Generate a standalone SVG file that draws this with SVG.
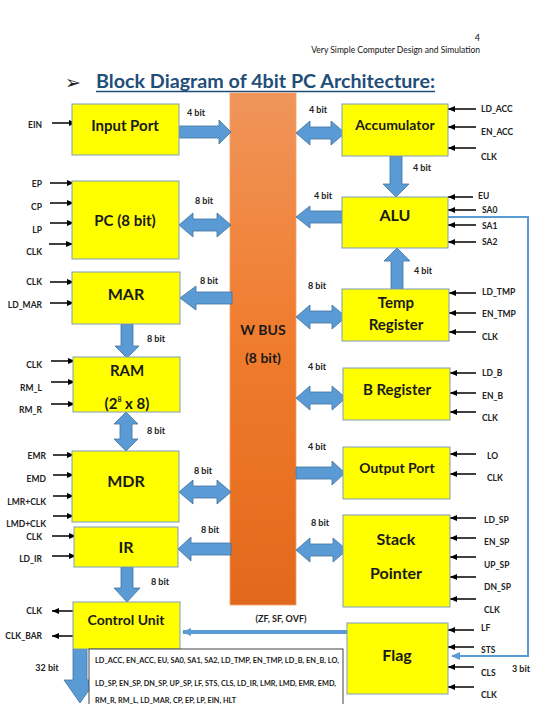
<svg xmlns="http://www.w3.org/2000/svg" width="548" height="704" viewBox="0 0 548 704">
<style>
.box{fill:#ffff00;stroke:#7f9cc0;stroke-width:1}
.bt{font-family:Lato,"Open Sans",sans-serif;font-weight:bold;fill:#1a1a1a;text-anchor:middle}
.sig{font-family:Lato,"Open Sans",sans-serif;font-weight:bold;font-size:8.5px;fill:#222}
.sr{text-anchor:end}
.bit{font-family:Lato,"Open Sans",sans-serif;font-weight:bold;font-size:9px;fill:#222;text-anchor:middle}
.ba{fill:#5b9bd5;stroke:#41719c;stroke-width:0.8}
.sl{stroke:#000;stroke-width:1.5;marker-end:url(#ah)}
.lst{font-family:Lato,"Open Sans",sans-serif;font-size:6.5px;font-weight:bold;fill:#222}
</style>
<defs>
<marker id="ah" markerUnits="userSpaceOnUse" markerWidth="7" markerHeight="6" refX="7" refY="3" orient="auto"><path d="M0,0 L7,3 L0,6 z" fill="#000"/></marker>
<marker id="bh" markerUnits="userSpaceOnUse" markerWidth="9" markerHeight="8" refX="8" refY="4" orient="auto"><path d="M0,0 L9,4 L0,8 z" fill="#5b9bd5"/></marker>
<linearGradient id="bus" x1="0" y1="0" x2="0" y2="1"><stop offset="0" stop-color="#f0955a"/><stop offset="0.5" stop-color="#f07b2c"/><stop offset="1" stop-color="#e2691b"/></linearGradient>
</defs>
<rect width="548" height="704" fill="#ffffff"/>
<text x="480" y="41" font-family="Lato,'Open Sans',sans-serif" font-size="9" text-anchor="end" fill="#111">4</text>
<text x="480" y="53" font-family="Lato,'Open Sans',sans-serif" font-size="8.5" text-anchor="end" fill="#111">Very Simple Computer Design and Simulation</text>
<text x="65" y="89" font-family="'DejaVu Sans',sans-serif" font-size="19" fill="#222">➢</text>
<text x="96" y="88" font-family="Lato,'Open Sans',sans-serif" font-weight="bold" font-size="19" fill="#1f4e79" textLength="339" lengthAdjust="spacingAndGlyphs">Block Diagram of 4bit PC Architecture:</text>
<line x1="96" y1="91.5" x2="435" y2="91.5" stroke="#1f4e79" stroke-width="1.6"/>

<g id="wbus">
<rect x="230" y="93" width="66" height="512" fill="url(#bus)" stroke="#f3a06a" stroke-width="0.8"/>
<text class="bt" x="263" y="335" font-size="14">W BUS</text>
<text class="bt" x="263" y="363" font-size="14">(8 bit)</text>
</g>

<g id="connectors">
<polygon class="ba" points="179,126 219,126 219,120 231,132 219,144 219,138 179,138"/>
<polygon class="ba" points="179,225 193,213 193,219 217,219 217,213 231,225 217,237 217,231 193,231 193,237"/>
<polygon class="ba" points="180,298 196,286 196,292 232,292 232,304 196,304 196,310"/>
<polygon class="ba" points="121,324 133,324 133,346 139,346 127,358 115,346 121,346"/>
<polygon class="ba" points="126,412 138,424 132,424 132,439 138,439 126,451 114,439 120,439 120,424 114,424"/>
<polygon class="ba" points="179,492 193,480 193,486 217,486 217,480 231,492 217,504 217,498 193,498 193,504"/>
<polygon class="ba" points="178,549 191,537 191,543 231,543 231,555 191,555 191,561"/>
<polygon class="ba" points="121,567 133,567 133,588 140,588 127,602 114,588 121,588"/>
<polygon class="ba" points="73,649 87,649 87,680 96,680 80,703 64,680 73,680"/>
<polygon class="ba" points="296,133 310,121 310,127 331,127 331,121 345,133 331,145 331,139 310,139 310,145"/>
<polygon class="ba" points="390,156 402,156 402,184 409,184 396,197 383,184 390,184"/>
<polygon class="ba" points="296,217 310,206 310,211 342,211 342,223 310,223 310,228"/>
<polygon class="ba" points="397,248 410,261 403,261 403,289 391,289 391,261 384,261"/>
<polygon class="ba" points="296,317 310,305 310,311 332,311 332,305 346,317 332,329 332,323 310,323 310,329"/>
<polygon class="ba" points="296,398 310,386 310,392 332,392 332,386 346,398 332,410 332,404 310,404 310,410"/>
<polygon class="ba" points="296,467 332,467 332,461 345,473 332,485 332,479 296,479"/>
<polygon class="ba" points="296,550 310,538 310,544 333,544 333,538 347,550 333,562 333,556 310,556 310,562"/>
<polyline points="448,217 528,217 528,656 452,656" fill="none" stroke="#5b9bd5" stroke-width="2" marker-end="url(#bh)"/>
<line x1="347" y1="632" x2="183" y2="632" stroke="#5b9bd5" stroke-width="4" marker-end="url(#bh)"/>
<line class="sl" x1="52" y1="123" x2="76" y2="123"/>
<line class="sl" x1="50" y1="183" x2="74" y2="183"/>
<line class="sl" x1="50" y1="203" x2="74" y2="203"/>
<line class="sl" x1="50" y1="223" x2="74" y2="223"/>
<line class="sl" x1="49" y1="244" x2="73" y2="244"/>
<line class="sl" x1="50" y1="282" x2="74" y2="282"/>
<line class="sl" x1="50" y1="303" x2="74" y2="303"/>
<line class="sl" x1="51" y1="361" x2="75" y2="361"/>
<line class="sl" x1="51" y1="382" x2="75" y2="382"/>
<line class="sl" x1="51" y1="404" x2="75" y2="404"/>
<line class="sl" x1="53" y1="455" x2="74" y2="455"/>
<line class="sl" x1="53" y1="475" x2="74" y2="475"/>
<line class="sl" x1="53" y1="496" x2="74" y2="496"/>
<line class="sl" x1="53" y1="516" x2="74" y2="516"/>
<line class="sl" x1="52" y1="536" x2="76" y2="536"/>
<line class="sl" x1="52" y1="556" x2="76" y2="556"/>
<line class="sl" x1="78" y1="611" x2="52" y2="611"/>
<line class="sl" x1="78" y1="636" x2="52" y2="636"/>
<line class="sl" x1="476" y1="109" x2="448" y2="109"/>
<line class="sl" x1="476" y1="127" x2="448" y2="127"/>
<line class="sl" x1="476" y1="148" x2="448" y2="148"/>
<line class="sl" x1="473" y1="197" x2="448" y2="197"/>
<line class="sl" x1="476" y1="210" x2="448" y2="210"/>
<line class="sl" x1="476" y1="225" x2="448" y2="225"/>
<line class="sl" x1="476" y1="242" x2="448" y2="242"/>
<line class="sl" x1="476" y1="293" x2="449" y2="293"/>
<line class="sl" x1="476" y1="313" x2="449" y2="313"/>
<line class="sl" x1="476" y1="332" x2="449" y2="332"/>
<line class="sl" x1="476" y1="373" x2="450" y2="373"/>
<line class="sl" x1="476" y1="393" x2="450" y2="393"/>
<line class="sl" x1="476" y1="412" x2="450" y2="412"/>
<line class="sl" x1="476" y1="454" x2="450" y2="454"/>
<line class="sl" x1="476" y1="474" x2="450" y2="474"/>
<line class="sl" x1="476" y1="518" x2="450" y2="518"/>
<line class="sl" x1="476" y1="538" x2="450" y2="538"/>
<line class="sl" x1="476" y1="557" x2="450" y2="557"/>
<line class="sl" x1="476" y1="577" x2="450" y2="577"/>
<line class="sl" x1="476" y1="599" x2="450" y2="599"/>
<line class="sl" x1="474" y1="630" x2="448" y2="630"/>
<line class="sl" x1="474" y1="647" x2="448" y2="647"/>
<line class="sl" x1="474" y1="667" x2="448" y2="667"/>
<line class="sl" x1="474" y1="687" x2="448" y2="687"/>
<text class="bit" x="196" y="116">4 bit</text>
<text class="bit" x="204" y="204">8 bit</text>
<text class="bit" x="209" y="284">8 bit</text>
<text class="bit" x="156" y="342">8 bit</text>
<text class="bit" x="156" y="434">8 bit</text>
<text class="bit" x="203" y="474">8 bit</text>
<text class="bit" x="210" y="533">8 bit</text>
<text class="bit" x="160" y="585">8 bit</text>
<text class="bit" x="47" y="671" font-size="10">32 bit</text>
<text class="bit" x="318" y="113">4 bit</text>
<text class="bit" x="422" y="171">4 bit</text>
<text class="bit" x="323" y="199">4 bit</text>
<text class="bit" x="423" y="274">4 bit</text>
<text class="bit" x="317" y="289">8 bit</text>
<text class="bit" x="317" y="370">4 bit</text>
<text class="bit" x="317" y="450">4 bit</text>
<text class="bit" x="320" y="526">8 bit</text>
<text class="bit" x="521" y="672">3 bit</text>
<text class="bit" x="281" y="622">(ZF, SF, OVF)</text>
</g>

<g id="input-port">
<rect class="box" x="72" y="104" width="107" height="51"/>
<text class="bt" x="125" y="131" font-size="15">Input Port</text>
<text class="sig sr" x="42" y="128">EIN</text>
</g>
<g id="pc">
<rect class="box" x="72" y="181" width="107" height="78"/>
<text class="bt" x="125" y="226" font-size="15">PC (8 bit)</text>
<text class="sig sr" x="42" y="187">EP</text>
<text class="sig sr" x="42" y="210">CP</text>
<text class="sig sr" x="42" y="233">LP</text>
<text class="sig sr" x="42" y="255">CLK</text>
</g>
<g id="mar">
<rect class="box" x="72" y="272" width="108" height="52"/>
<text class="bt" x="126" y="300" font-size="16">MAR</text>
<text class="sig sr" x="42" y="285">CLK</text>
<text class="sig sr" x="42" y="308">LD_MAR</text>
</g>
<g id="ram">
<rect class="box" x="73" y="357" width="107" height="55"/>
<text class="bt" x="127" y="376" font-size="15">RAM</text>
<text class="bt" x="127" y="409" font-size="15">(2<tspan dy="-7" font-size="7">8</tspan><tspan dy="7"> x 8)</tspan></text>
<text class="sig sr" x="42" y="368">CLK</text>
<text class="sig sr" x="42" y="391">RM_L</text>
<text class="sig sr" x="42" y="413">RM_R</text>
</g>
<g id="mdr">
<rect class="box" x="72" y="451" width="107" height="71"/>
<text class="bt" x="126" y="487" font-size="16">MDR</text>
<text class="sig sr" x="46" y="459">EMR</text>
<text class="sig sr" x="46" y="482">EMD</text>
<text class="sig sr" x="46" y="505">LMR+CLK</text>
<text class="sig sr" x="46" y="527">LMD+CLK</text>
</g>
<g id="ir">
<rect class="box" x="74" y="527" width="104" height="40"/>
<text class="bt" x="126" y="553" font-size="16">IR</text>
<text class="sig sr" x="42" y="540">CLK</text>
<text class="sig sr" x="42" y="562">LD_IR</text>
</g>
<g id="control-unit">
<rect class="box" x="73" y="602" width="107" height="47"/>
<text class="bt" x="126" y="625" font-size="14">Control Unit</text>
<text class="sig sr" x="42" y="614">CLK</text>
<text class="sig sr" x="42" y="639">CLK_BAR</text>
</g>
<g id="signal-list">
<rect x="89" y="649" width="254" height="60" fill="#fff" stroke="#444" stroke-width="1"/>
<text class="lst" x="95" y="663" textLength="244" lengthAdjust="spacingAndGlyphs">LD_ACC, EN_ACC, EU, SA0, SA1, SA2, LD_TMP, EN_TMP, LD_B, EN_B, LO,</text>
<text class="lst" x="95" y="686" textLength="241" lengthAdjust="spacingAndGlyphs">LD_SP, EN_SP, DN_SP, UP_SP, LF, STS, CLS, LD_IR, LMR, LMD, EMR, EMD,</text>
<text class="lst" x="95" y="703" textLength="141" lengthAdjust="spacingAndGlyphs">RM_R, RM_L, LD_MAR, CP, EP, LP, EIN, HLT</text>
</g>
<g id="accumulator">
<rect class="box" x="342" y="104" width="106" height="52"/>
<text class="bt" x="395" y="130" font-size="14">Accumulator</text>
<text class="sig" x="481" y="112">LD_ACC</text>
<text class="sig" x="481" y="135">EN_ACC</text>
<text class="sig" x="481" y="160">CLK</text>
</g>
<g id="alu">
<rect class="box" x="342" y="197" width="106" height="51"/>
<text class="bt" x="395" y="221" font-size="16">ALU</text>
<text class="sig" x="478" y="199">EU</text>
<text class="sig" x="482" y="213">SA0</text>
<text class="sig" x="482" y="229">SA1</text>
<text class="sig" x="482" y="245">SA2</text>
</g>
<g id="temp-register">
<rect class="box" x="342" y="289" width="107" height="52"/>
<text class="bt" x="396" y="308" font-size="15">Temp</text>
<text class="bt" x="396" y="330" font-size="15">Register</text>
<text class="sig" x="482" y="295">LD_TMP</text>
<text class="sig" x="482" y="317">EN_TMP</text>
<text class="sig" x="482" y="340">CLK</text>
</g>
<g id="b-register">
<rect class="box" x="343" y="368" width="107" height="52"/>
<text class="bt" x="397" y="395" font-size="15">B Register</text>
<text class="sig" x="482" y="376">LD_B</text>
<text class="sig" x="482" y="399">EN_B</text>
<text class="sig" x="482" y="421">CLK</text>
</g>
<g id="output-port">
<rect class="box" x="343" y="447" width="107" height="52"/>
<text class="bt" x="397" y="473" font-size="14">Output Port</text>
<text class="sig" x="487" y="459">LO</text>
<text class="sig" x="487" y="481">CLK</text>
</g>
<g id="stack-pointer">
<rect class="box" x="343" y="515" width="107" height="92"/>
<text class="bt" x="396" y="545" font-size="16">Stack</text>
<text class="bt" x="396" y="579" font-size="16">Pointer</text>
<text class="sig" x="484" y="523">LD_SP</text>
<text class="sig" x="484" y="545">EN_SP</text>
<text class="sig" x="484" y="568">UP_SP</text>
<text class="sig" x="484" y="590">DN_SP</text>
<text class="sig" x="484" y="613">CLK</text>
</g>
<g id="flag">
<rect class="box" x="347" y="623" width="101" height="71"/>
<text class="bt" x="397" y="661" font-size="16">Flag</text>
<text class="sig" x="481" y="631">LF</text>
<text class="sig" x="481" y="653">STS</text>
<text class="sig" x="481" y="676">CLS</text>
<text class="sig" x="481" y="698">CLK</text>
</g>
</svg>
